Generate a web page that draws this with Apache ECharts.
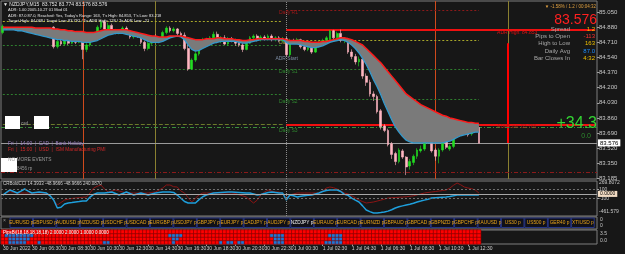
<!DOCTYPE html>
<html><head><meta charset="utf-8">
<script src="https://cdn.jsdelivr.net/npm/echarts@6/dist/echarts.min.js"></script>
<style>html,body{margin:0;padding:0;background:#171717;}#c{width:625px;height:254px;}</style>
</head><body><div id="c"></div>
<script>
// ---------- data ----------
const tickLabels = ['30 Jun 2022','30 Jun 06:30','30 Jun 08:30','30 Jun 10:30','30 Jun 12:30','30 Jun 14:30','30 Jun 16:30','30 Jun 18:30','30 Jun 20:30','30 Jun 22:30','1 Jul 00:30','1 Jul 02:30','1 Jul 04:30','1 Jul 06:30','1 Jul 08:30','1 Jul 10:30','1 Jul 12:30'];
const priceTicks = [85.050,84.880,84.710,84.540,84.370,84.200,84.030,83.860,83.690,83.520,83.350,83.185];
const cciTicks = [269.8072,100,-100,-461.579];
const cciTickText = ['269.8072','100','-100','-461.579'];
const btnAxisLabels = ['0','0'];
const heatAxisLabels = ['3.5','0.0'];
// [open, close, low, high]
const ohlc = [
[84.82,84.89,84.80,84.91],[84.87,84.86,84.85,84.88],[84.86,84.87,84.85,84.88],[84.87,84.86,84.85,84.88],[84.86,84.85,84.84,84.88],
[84.85,84.86,84.84,84.87],[84.86,84.85,84.83,84.87],[84.85,84.84,84.82,84.87],[84.84,84.85,84.82,84.86],[84.85,84.83,84.81,84.86],
[84.83,84.84,84.80,84.86],[84.84,84.82,84.79,84.86],[84.82,84.83,84.78,84.86],[84.83,84.84,84.78,84.86],[84.88,84.66,84.64,84.89],
[84.66,84.72,84.64,84.74],[84.72,84.69,84.67,84.75],[84.69,84.73,84.67,84.75],[84.73,84.70,84.68,84.76],[84.70,84.74,84.69,84.76],
[84.74,84.71,84.69,84.77],[84.71,84.79,84.70,84.81],[84.79,84.63,84.52,84.82],[84.63,84.68,84.60,84.70],[84.68,84.74,84.66,84.76],
[84.74,84.80,84.72,84.82],[84.80,84.88,84.78,84.90],[84.88,84.94,84.86,84.96],[84.94,84.86,84.84,84.96],[84.86,84.90,84.84,84.93],
[84.90,84.84,84.82,84.92],[84.84,84.82,84.80,84.86],[84.82,84.83,84.80,84.85],[84.83,84.87,84.82,84.89],[84.87,84.82,84.80,84.89],
[84.82,84.77,84.75,84.84],[84.77,84.79,84.75,84.81],[84.79,84.78,84.76,84.80],[84.78,84.71,84.69,84.81],[84.71,84.64,84.61,84.73],
[84.64,84.70,84.62,84.72],[84.70,84.77,84.68,84.79],[84.77,84.75,84.72,84.80],[84.75,84.73,84.70,84.77],[84.73,84.82,84.72,84.84],
[84.82,84.87,84.80,84.89],[84.87,84.84,84.82,84.89],[84.84,84.86,84.82,84.88],[84.86,84.81,84.79,84.87],[84.81,84.79,84.77,84.83],
[84.79,84.64,84.62,84.82],[84.64,84.41,84.39,84.70],[84.41,84.51,84.40,84.53],[84.51,84.58,84.49,84.60],[84.58,84.70,84.56,84.72],
[84.70,84.74,84.68,84.76],[84.74,84.70,84.67,84.76],[84.70,84.76,84.69,84.78],[84.76,84.80,84.74,84.83],[84.80,84.72,84.70,84.83],
[84.72,84.76,84.70,84.78],[84.76,84.69,84.68,84.79],[84.69,84.75,84.67,84.77],[84.75,84.73,84.71,84.77],[84.73,84.70,84.67,84.75],
[84.70,84.68,84.66,84.73],[84.68,84.63,84.60,84.70],[84.63,84.70,84.62,84.72],[84.70,84.76,84.69,84.78],[84.76,84.78,84.74,84.80],
[84.78,84.74,84.72,84.80],[84.74,84.77,84.72,84.79],[84.77,84.75,84.73,84.79],[84.75,84.78,84.73,84.80],[84.78,84.74,84.72,84.80],
[84.74,84.76,84.72,84.78],[84.76,84.73,84.71,84.78],[84.73,84.75,84.71,84.77],[84.75,84.57,84.55,84.77],[84.57,84.73,84.55,84.75],
[84.73,84.72,84.70,84.75],[84.72,84.74,84.70,84.76],[84.74,84.66,84.64,84.75],[84.66,84.63,84.61,84.68],[84.63,84.65,84.61,84.67],
[84.65,84.60,84.58,84.67],[84.60,84.67,84.59,84.69],[84.67,84.71,84.65,84.73],[84.71,84.73,84.69,84.75],[84.73,84.76,84.71,84.78],
[84.74,84.84,84.72,84.85],[84.84,84.76,84.74,84.85],[84.76,84.81,84.75,84.83],[84.81,84.73,84.71,84.853],[84.73,84.74,84.70,84.76],
[84.74,84.60,84.58,84.76],[84.60,84.55,84.52,84.63],[84.55,84.49,84.46,84.58],[84.49,84.52,84.44,84.55],[84.52,84.33,84.30,84.54],
[84.33,84.26,84.22,84.36],[84.26,84.13,84.10,84.29],[84.13,84.10,84.05,84.16],[84.10,83.93,83.91,84.12],[83.94,83.76,83.73,83.96],
[83.77,83.72,83.70,83.79],[83.72,83.56,83.54,83.74],[83.57,83.45,83.40,83.59],[83.46,83.37,83.33,83.48],[83.37,83.50,83.35,83.52],
[83.49,83.42,83.40,83.51],[83.42,83.31,83.218,83.43],[83.32,83.37,83.28,83.40],[83.36,83.43,83.33,83.45],[83.43,83.50,83.40,83.52],
[83.49,83.51,83.47,83.55],[83.51,83.59,83.49,83.62],[83.59,83.61,83.57,83.66],[83.61,83.49,83.47,83.65],[83.50,83.43,83.38,83.52],
[83.43,83.50,83.35,83.52],[83.50,83.59,83.48,83.61],[83.60,83.53,83.51,83.64],[83.51,83.54,83.49,83.56],[83.54,83.70,83.52,83.72],
[83.68,83.77,83.66,83.82],[83.77,83.72,83.70,83.80],[83.72,83.77,83.70,83.80],[83.77,83.67,83.65,83.79],[83.68,83.77,83.66,83.80],
[83.74,83.752,83.73,83.80],[83.752,83.576,83.576,83.774]
];
const maUpper = [
84.88,84.88,84.88,84.88,84.88,84.88,84.88,84.88,84.88,84.87,84.87,84.87,84.87,84.87,
84.86,84.86,84.85,84.85,84.84,84.84,84.83,84.83,
84.83,84.82,84.82,84.82,84.83,84.84,84.85,84.85,84.85,
84.85,84.85,84.85,84.85,84.84,84.83,84.82,84.81,84.80,84.79,
84.78,84.78,84.77,84.77,84.77,84.78,84.78,84.78,84.78,84.77,
84.76,84.75,84.74,84.74,84.74,84.75,84.75,84.75,84.76,84.76,
84.75,84.75,84.75,84.74,84.74,84.73,84.73,84.74,84.74,84.75,
84.75,84.75,84.75,84.75,84.75,84.75,84.75,84.74,84.73,84.73,
84.73,84.73,84.72,84.72,84.71,84.71,84.71,84.72,84.72,84.73,
84.74,84.75,84.76,84.76,84.75,84.74,84.72,84.70,84.68,84.64,
84.60,84.56,84.52,84.48,84.43,84.38,84.33,84.28,84.23,84.18,
84.13,84.10,84.07,84.04,84.01,83.99,83.97,83.95,83.93,83.91,
83.89,83.88,83.86,83.85,83.84,83.83,83.82,83.81,83.81,83.80,83.80
];
const maLower = [
84.85,84.85,84.85,84.85,84.84,84.84,84.83,84.82,84.81,84.80,84.79,84.78,84.77,84.76,
84.75,84.74,84.74,84.73,84.73,84.72,84.72,84.72,
84.71,84.71,84.71,84.72,84.73,84.75,84.77,84.79,84.80,
84.81,84.81,84.81,84.80,84.79,84.78,84.77,84.76,84.74,84.72,
84.71,84.71,84.71,84.72,84.74,84.76,84.77,84.78,84.77,84.74,
84.68,84.63,84.61,84.62,84.64,84.66,84.68,84.70,84.71,84.72,
84.72,84.72,84.72,84.72,84.71,84.70,84.70,84.71,84.72,84.73,
84.74,84.74,84.74,84.74,84.74,84.74,84.74,84.71,84.69,84.69,
84.69,84.68,84.67,84.66,84.65,84.65,84.66,84.67,84.69,84.71,
84.72,84.73,84.74,84.73,84.71,84.68,84.64,84.59,84.53,84.46,
84.38,84.29,84.21,84.12,84.02,83.93,83.84,83.76,83.70,83.65,
83.61,83.59,83.58,83.58,83.58,83.58,83.58,83.58,83.58,83.58,
83.58,83.59,83.60,83.62,83.64,83.66,83.67,83.68,83.69,83.70,83.70
];
const cciFast = [
-23,30,82,50,19,60,102,60,19,30,40,30,19,-40,-127,-294,-280,-210,-190,-180,
-169,-160,-150,-148,-65,-10,19,19,19,30,40,10,-23,10,40,10,-23,0,19,0,
-23,0,19,30,40,40,40,30,-23,-90,-160,-190,-190,-190,-120,-60,-23,0,19,25,
30,35,40,40,35,30,25,19,19,0,-23,-10,10,30,40,30,19,19,-127,-23,
-40,-65,-50,-40,-30,-23,0,19,50,70,82,82,82,50,-10,-30,-86,-130,-169,-250,
-336,-370,-399,-399,-390,-378,-360,-330,-294,-270,-250,-232,-215,-195,-169,-150,-130,-110,-86,-80,
-75,-70,-65,-55,-40,-23,-23,-23,-23,-23,-23,-23
];
const cciSlow = [
-23,30,46,30,19,19,19,19,19,19,19,19,19,-40,-127,-232,-180,-127,-110,-95,
-86,-80,-70,-65,20,123,160,186,100,40,60,82,60,40,19,19,19,19,19,19,
19,30,40,80,123,186,186,150,144,60,19,-80,-169,-90,-20,19,19,19,19,19,
19,19,19,19,10,-20,-40,-65,-130,-190,-130,-23,40,82,60,40,40,0,-86,-23,
0,19,19,19,19,19,19,19,60,123,144,130,102,60,19,0,-40,-80,-127,-160,
-190,-180,-169,-150,-130,-110,-86,-80,-75,-70,-65,-60,-50,-40,-20,0,19,30,40,50,
60,70,82,120,180,228,190,144,123,110,82,19
];
// heat-map rows (0 = bottom): bar indexes shown in blue
const blueRow3 = [];
const blueRow2 = [1,2,3,4,5,6,7,8,46,47,48,49,74,75,76,77,90,91,92,93];
const blueRow1 = [2,3,4,5,6,7,47,48,75,76,77,91,92,93];
const blueRow0 = [2,3,4,5,6,10,28,29,47,60,62,63,65,66,75,76,77,89,90,91,92,93];
const buttons = ['EURUSD p','GBPUSD p','AUDUSD p','NZDUSD p','USDCHF p','USDCAD p','EURGBP p','USDJPY p','GBPJPY p','EURJPY p','CADJPY p','AUDJPY p','NZDJPY p','EURAUD p','EURCAD p','EURNZD p','GBPAUD p','GBPCAD p','GBPNZD p','GBPCHF p','XAUUSD p','US30 p','US500 p','GER40 p','XTIUSD p'];
const bid = 83.576;
const todayR1 = 85.073, todayP = 84.736, todayS1 = 84.410, todayS2 = 84.073, todayS3 = 83.747;
const prevPivots = [84.950, 84.680, 84.410, 84.129, 83.790];
const adrHigh = 84.853, adrLow = 83.786, adrStart = 84.53, lowLevel = 83.253, adrBarTop = 84.70;
const vLines = [22, 42, 119, 139];
const dayStart = 78, futureBar = 139, lastCat = 163;
const infoLabels = ['Spread','Pips to Open','High to Low','Daily Avg','Bar Closes In'];
const infoValues = ['1.2','-113','163','87.0','4:32'];
const headerLines = ['▼ NZDJPY,M15  83.752 83.774 83.576 83.576','ADR: 1.00 2005.10.27 01 Mod 01','ADR: 87.0 87.0, Reached: Yes, Today\'s Range: 163, T\'s High: 84.853, T\'s Low: 83.218','Target High: 84.088 / Target Low: 83.792 / To ADR High: 128 / To ADR Low: -21'];
const events = ['Fri  |  14:00  |  CAD  |  Bank Holiday','Fri  |  15:00  |  USD  |  ISM Manufacturing PMI'];

// ---------- chart ----------
const N = 164;
const cats = Array.from({length: N}, (_, i) => i);
const maDiff = maUpper.map((v, i) => +(v - maLower[i]).toFixed(4));
const blueRows = [blueRow0, blueRow1, blueRow2, blueRow3];
const heatData = [];
for (let i = 0; i < ohlc.length; i++) for (let r = 0; r < 4; r++) heatData.push([i, r, blueRows[r].includes(i) ? 1 : 0]);

const FONT = 'Liberation Sans';
const GRAY = '#7f7f7f';
const chart = echarts.init(document.getElementById('c'), null, {width: 625, height: 254});

const hidX = (g) => ({type: 'category', data: cats, gridIndex: g, axisLine: {show: false}, axisTick: {show: false}, axisLabel: {show: false}, splitLine: {show: false}});
const showTick = (idx) => idx % 8 === 0 && idx / 8 < tickLabels.length;

const dot = (c) => ({color: c, width: 1, type: [2, 2]});
const seg = (x0, x1, y, ls) => [{coord: [x0, y], lineStyle: ls}, {coord: [x1, y]}];

const levelLines = [
  seg(0, dayStart - 1, prevPivots[0], dot('#a8a82a')),
  seg(0, dayStart - 1, prevPivots[1], dot('#2f7f2f')),
  seg(0, dayStart - 1, prevPivots[2], dot('#2f7f2f')),
  seg(0, dayStart - 1, prevPivots[3], dot('#2f7f2f')),
  seg(0, dayStart - 1, prevPivots[4], {color: '#6b7a2a', width: 1, type: [4, 2]}),
  seg(dayStart, ohlc.length - 1, todayR1, dot('#8b1a1a')),
  seg(dayStart, ohlc.length - 1, todayP, dot('#a8a82a')),
  seg(dayStart, ohlc.length - 1, todayS1, dot('#2f7f2f')),
  seg(dayStart, ohlc.length - 1, todayS2, dot('#2f7f2f')),
  {yAxis: todayS3, lineStyle: {color: '#3c8c3c', width: 1, type: [4, 2, 1, 2]}},
  {yAxis: lowLevel, lineStyle: {color: '#8b1a1a', width: 1, type: [4, 2, 1, 2]}},
  {yAxis: bid, lineStyle: {color: '#9a9a9a', width: 1, type: 'solid'},
    label: {show: true, position: 'end', distance: 1, formatter: bid.toFixed(3), backgroundColor: '#ffffff', color: '#000', fontSize: 6, fontFamily: FONT, padding: [1, 2, 0, 2]}}
];
const adrLines = [
  seg(dayStart, lastCat, adrHigh, {color: '#f01010', width: 2, type: 'solid'}),
  seg(dayStart, lastCat, adrLow, {color: '#f01010', width: 2, type: 'solid'}),
  [{coord: [futureBar, adrBarTop], lineStyle: {color: '#ff0000', width: 2, type: 'solid'}}, {coord: [futureBar, bid]}]
];
const vertLines = [
  {xAxis: vLines[0], lineStyle: {color: '#d04a1c', width: 1, type: 'solid'}},
  {xAxis: vLines[1], lineStyle: {color: '#8a8030', width: 1, type: 'solid'}},
  {xAxis: vLines[2], lineStyle: {color: '#d04a1c', width: 1, type: 'solid'}},
  {xAxis: vLines[3], lineStyle: {color: '#8a8030', width: 1, type: 'solid'}},
  {xAxis: dayStart, lineStyle: {color: '#8a8a8a', width: 1, type: [1, 1]}}
];
const mk = (x, y, text, color, oy) => ({coord: [x, y], value: text, symbolSize: 0,
  label: {show: true, position: 'right', distance: 0, offset: [0, oy], formatter: text, color: color, fontSize: 5, fontFamily: FONT}});
const mainPoints = [
  mk(76, todayR1, 'Daily R1', '#a01818', 3),
  mk(76, todayP, 'Daily P', '#a8a040', 3),
  mk(75, adrStart, 'ADR Start', '#7f8fa6', 0),
  mk(76, todayS1, 'Daily S1', '#2f8a2f', 3),
  mk(76, todayS2, 'Daily S2', '#2f8a2f', 3),
  mk(76, todayS3, 'Daily S3', '#2f8a2f', 3),
  mk(136, adrHigh, 'ADR High: 84.853', '#e01010', 3),
  mk(136, adrLow, 'ADR Low: 83.786', '#b01818', 2)
];

const txt = (x, y, text, fill, size, align, extra) => Object.assign({type: 'text', silent: true, z: 100,
  style: {x: x, y: y, text: text, fill: fill, font: size + 'px ' + FONT, textAlign: align || 'left', textVerticalAlign: 'middle'}}, extra || {});
const graphics = [];
graphics.push(txt(3, 5, headerLines[0], '#e6e6e6', 5));
graphics.push(txt(8, 10, headerLines[1], '#e6e6e6', 4));
graphics.push(txt(8, 15.5, headerLines[2], '#e6e6e6', 4));
graphics.push(txt(8, 21, headerLines[3], '#e6e6e6', 4));
graphics.push(txt(596, 7, '▼ -1.58% / 1.2 / 00:04:32', '#e0a040', 4.5, 'right'));
graphics.push(txt(597, 20, '83.576', '#ff2020', 14, 'right'));
const infoColors = ['#f0c000', '#ff3030', '#f0c000', '#1e8fff', '#f0c000'];
infoLabels.forEach((l, i) => {
  graphics.push(txt(570, 29 + i * 7.3, l, '#a8a8a8', 6, 'right'));
  graphics.push(txt(595, 29 + i * 7.3, infoValues[i], infoColors[i], 6, 'right'));
});
graphics.push(txt(597, 124, '+34.3', '#33d433', 16, 'right'));
graphics.push(txt(591, 136, '0.0', '#2e8b2e', 7, 'right'));
graphics.push({type: 'rect', z: 100, silent: true, shape: {x: 5, y: 116, width: 15, height: 13}, style: {fill: '#ffffff'}});
graphics.push({type: 'rect', z: 100, silent: true, shape: {x: 34, y: 116, width: 15, height: 13}, style: {fill: '#ffffff'}});
graphics.push(txt(21, 124, 'cad', '#9a9a9a', 4.5));
graphics.push(txt(8, 144, events[0], '#9a7fc0', 4.8));
graphics.push(txt(8, 150, events[1], '#d02828', 4.8));
graphics.push({type: 'rect', z: 100, silent: true, shape: {x: 1, y: 158, width: 16, height: 14}, style: {fill: '#ffffff'}});
graphics.push(txt(8, 160, 'NO MORE EVENTS', '#9a9a9a', 4.8, 'left', {z: 101}));
graphics.push(txt(17, 169, '8456 rp', '#9a9a9a', 4.5));
graphics.push(txt(3, 183.5, 'CRBoldCCI 14.3933 -48.9666 -48.9666 240.0870', '#d0d0d0', 4.5));
graphics.push(txt(3, 232.5, 'PipsBi(18,18,18,18,18) 2.0000 2.0000 1.0000 0.0000', '#ffffff', 4.5, 'left', {z: 120}));
graphics.push({type: 'rect', silent: true, shape: {x: 1, y: 217, width: 596, height: 12}, style: {fill: 'none', stroke: GRAY, lineWidth: 1}});
graphics.push(txt(3, 221, '×', '#9a9a9a', 5));
buttons.forEach((b, k) => {
  const x = 10 + k * 23.4;
  graphics.push({type: 'rect', silent: true, z: 90, shape: {x: x, y: 218, width: 22.6, height: 9.5}, style: {fill: '#101018', stroke: '#263584', lineWidth: 1}});
  graphics.push(txt(x + 11.3, 223, b, b === 'NZDJPY p' ? '#f0f0f0' : '#e8a317', 4.8, 'center'));
});
graphics.push(txt(600, 220, btnAxisLabels[0], '#c8c8c8', 5));
graphics.push(txt(600, 226, btnAxisLabels[1], '#c8c8c8', 5));
graphics.push(txt(600, 234, heatAxisLabels[0], '#c8c8c8', 5));
graphics.push(txt(600, 241, heatAxisLabels[1], '#c8c8c8', 5));

const option = {
  animation: false,
  backgroundColor: '#171717',
  textStyle: {fontFamily: FONT},
  grid: [
    {left: 1, right: 28, top: 1, height: 178, show: true, borderColor: GRAY, borderWidth: 1},
    {left: 1, right: 28, top: 181, height: 35, show: true, borderColor: GRAY, borderWidth: 1},
    {left: 1, right: 28, top: 230, height: 14, show: true, borderColor: GRAY, borderWidth: 1}
  ],
  xAxis: [hidX(0), hidX(1), {
    type: 'category', data: cats, gridIndex: 2, axisLine: {show: false}, splitLine: {show: false},
    axisTick: {show: true, alignWithLabel: true, interval: showTick, length: 2, lineStyle: {color: '#a0a0a0'}},
    axisLabel: {interval: showTick, formatter: (v, idx) => tickLabels[idx / 8] || '', align: 'left', margin: 2, fontSize: 5, color: '#cfcfcf', fontFamily: FONT}
  }],
  yAxis: [
    {type: 'value', gridIndex: 0, min: 83.174, max: 85.174, position: 'right', axisLine: {show: false}, splitLine: {show: false},
      axisTick: {show: true, length: 2, customValues: priceTicks, lineStyle: {color: '#a0a0a0'}},
      axisLabel: {customValues: priceTicks, formatter: v => v.toFixed(3), fontSize: 6, color: '#c8c8c8', margin: 2, fontFamily: FONT}},
    {type: 'value', gridIndex: 1, min: -461.579, max: 269.8072, position: 'right', axisLine: {show: false}, splitLine: {show: false},
      axisTick: {show: true, length: 2, customValues: [100, -100], lineStyle: {color: '#a0a0a0'}},
      axisLabel: {customValues: cciTicks, fontSize: 5, color: '#c8c8c8', margin: 2, fontFamily: FONT,
        formatter: v => { const i = cciTicks.indexOf(v); const t = i >= 0 ? cciTickText[i] : String(v); return i === 0 ? '{t|' + t + '}' : i === 3 ? '{b|' + t + '}' : t; },
        rich: {t: {padding: [4, 0, 0, 0], fontSize: 5, color: '#c8c8c8'}, b: {padding: [0, 0, 8, 0], fontSize: 5, color: '#c8c8c8'}}}},
    {type: 'category', gridIndex: 2, data: ['0', '1', '2', '3'], axisLine: {show: false}, axisTick: {show: false}, axisLabel: {show: false}, splitLine: {show: false}}
  ],
  visualMap: {show: false, type: 'piecewise', seriesIndex: 7, dimension: 2, pieces: [{value: 0, color: '#ff0000'}, {value: 1, color: '#1f78d6'}]},
  series: [
    {type: 'line', xAxisIndex: 0, yAxisIndex: 0, data: maLower, stack: 'ma', symbol: 'none', lineStyle: {width: 0}, silent: true, z: 6,
      markLine: {silent: true, symbol: ['none', 'none'], label: {show: false}, data: vertLines}},
    {type: 'line', xAxisIndex: 0, yAxisIndex: 0, data: maDiff, stack: 'ma', symbol: 'none', lineStyle: {width: 0}, areaStyle: {color: '#7a7a7a', opacity: 1}, silent: true, z: 6,
      markLine: {silent: true, symbol: ['none', 'none'], label: {show: false}, data: adrLines}},
    {type: 'line', xAxisIndex: 0, yAxisIndex: 0, data: maLower, symbol: 'none', lineStyle: {width: 1.3, color: '#3399cc'}, silent: true, z: 7},
    {type: 'line', xAxisIndex: 0, yAxisIndex: 0, data: maUpper, symbol: 'none', lineStyle: {width: 1.5, color: '#ff1a1a'}, silent: true, z: 7},
    {type: 'candlestick', xAxisIndex: 0, yAxisIndex: 0, data: ohlc, barWidth: 2.2, z: 5, silent: true,
      itemStyle: {color: '#22dd22', color0: '#ffb6c1', borderColor: '#22dd22', borderColor0: '#ffb6c1', borderWidth: 0.6},
      markLine: {silent: true, symbol: ['none', 'none'], label: {show: false}, data: levelLines},
      markPoint: {silent: true, symbol: 'circle', data: mainPoints}},
    {type: 'line', xAxisIndex: 1, yAxisIndex: 1, data: cciSlow, symbol: 'none', lineStyle: {width: 1, color: '#8b1414'}, silent: true, z: 3,
      markLine: {silent: true, symbol: ['none', 'none'], label: {show: false}, data: [
        {yAxis: 100, lineStyle: {color: '#6e6e6e', width: 1, type: [2, 2]}},
        {yAxis: -100, lineStyle: {color: '#6e6e6e', width: 1, type: [2, 2]}},
        {xAxis: dayStart, lineStyle: {color: '#8a8a8a', width: 1, type: [1, 1]}},
        {yAxis: 0, lineStyle: {color: '#a8a8a8', width: 1, type: 'solid'},
          label: {show: true, position: 'end', distance: 1, formatter: '0.0000', backgroundColor: '#f2dcc4', color: '#000', fontSize: 5, fontFamily: FONT, padding: [1, 2, 0, 2]}}
      ]}},
    {type: 'line', xAxisIndex: 1, yAxisIndex: 1, data: cciFast, symbol: 'none', lineStyle: {width: 1.5, color: '#1e9fdc'}, silent: true, z: 4},
    {type: 'heatmap', xAxisIndex: 2, yAxisIndex: 2, data: heatData, silent: true, itemStyle: {borderColor: '#7a0000', borderWidth: 0.6}}
  ],
  graphic: graphics
};
chart.setOption(option);
</script>
</body></html>
